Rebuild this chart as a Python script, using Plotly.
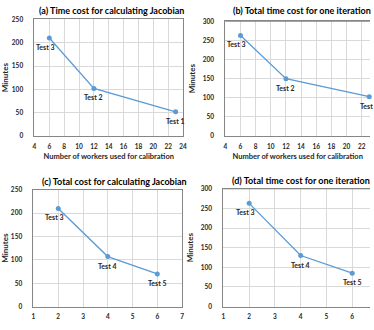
import plotly.graph_objects as go

W, H = 374, 330

# ---- data ----
workers_ab = [6, 12, 23]
jacobian_time_a = [210, 102, 52]
iteration_time_b = [263, 150, 103]
labels_ab = ["Test 3", "Test 2", "Test 1"]

x_cd = [2, 4, 6]
jacobian_total_c = [210, 107, 70]
iteration_total_d = [263, 130, 85]
labels_cd = ["Test 3", "Test 4", "Test 5"]

titles = ["(a) Time cost for calculating Jacobian",
          "(b) Total time cost for one iteration",
          "(c) Total cost for calculating Jacobian",
          "(d) Total time cost for one iteration"]
x_title = "Number of workers used for calibration"
y_title = "Minutes"

FONT = "Lato, Liberation Sans, sans-serif"
BLUE = "#5b9bd5"
GRID = "#d9d9d9"
BORDER = "#868686"
TXT = "#262626"

def px2x(p):
    return p / W

def px2y(p):
    return 1 - p / H

panels = [
    # (xs, ys, labels, xdomain px, ydomain px (top,bottom), xrange, dtick, yrange, full box, title center px, x title)
    (workers_ab, jacobian_time_a, labels_ab, (33, 184), (16, 138), [4, 24], 2, [0, 250], True, (111, 7), True),
    (workers_ab, iteration_time_b, labels_ab, (227, 374), (18, 138), [4, 23.1], 2, [0, 300], False, (305, 7), True),
    (x_cd, jacobian_total_c, labels_cd, (32, 183), (194, 316), [1, 7], 1, [0, 250], True, (114, 185), False),
    (x_cd, iteration_total_d, labels_cd, (225, 374), (193, 316), [1, 6.69], 1, [0, 300], False, (304, 184), False),
]

fig = go.Figure()
annotations = []
layout = {}
for i, (xs, ys, labs, xd, yd, xr, dt, yr, box, tpos, has_xt) in enumerate(panels):
    n = "" if i == 0 else str(i + 1)
    xa, ya = "x" + n, "y" + n
    fig.add_trace(go.Scatter(
        x=xs, y=ys, xaxis=xa, yaxis=ya, mode="lines+markers",
        line=dict(color=BLUE, width=1.3),
        marker=dict(color=BLUE, size=5),
        cliponaxis=False, showlegend=False, hoverinfo="skip"))
    layout["xaxis" + n] = dict(
        domain=[px2x(xd[0]), px2x(xd[1])], anchor=ya, range=xr, dtick=dt, tick0=0,
        showgrid=True, gridcolor=GRID, gridwidth=1, zeroline=False,
        showline=True, linecolor=BORDER, linewidth=1, mirror=True,
        ticks="", ticklabelstandoff=4,
        tickfont=dict(family=FONT, size=6.5, color=TXT, weight="bold"),
        title=dict(text=x_title if has_xt else "", standoff=4,
                   font=dict(family=FONT, size=7.5, color=TXT, weight="bold")),
    )
    layout["yaxis" + n] = dict(
        domain=[px2y(yd[1]), px2y(yd[0])], anchor=xa, range=yr, dtick=50,
        showgrid=True, gridcolor=GRID, gridwidth=1, zeroline=False,
        showline=True, linecolor=BORDER, linewidth=1, mirror=box,
        ticks="", ticklabelstandoff=9,
        tickfont=dict(family=FONT, size=6.5, color=TXT, weight="bold"),
        title=dict(text=y_title, standoff=5,
                   font=dict(family=FONT, size=8, color=TXT, weight="bold")),
    )
    if not box:
        # top border only (right side is cut off in the reference)
        fig.add_shape(type="line", xref=xa + " domain", yref=ya + " domain",
                      x0=0, x1=1, y0=1, y1=1, line=dict(color=BORDER, width=1))
    for k, (x, y, t) in enumerate(zip(xs, ys, labs)):
        annotations.append(dict(
            x=x, y=y, xref=xa, yref=ya, text=t, showarrow=False,
            xshift=-4 if k == 0 else 0, yshift=-9,
            font=dict(family=FONT, size=7, color=TXT, weight="bold")))
    annotations.append(dict(
        x=px2x(tpos[0]), y=px2y(tpos[1]), xref="paper", yref="paper",
        text=titles[i], showarrow=False, yanchor="middle", xanchor="center",
        font=dict(family=FONT, size=9, color="#000000", weight="bold")))

fig.update_layout(
    width=W, height=H, margin=dict(l=0, r=0, t=0, b=0),
    paper_bgcolor="white", plot_bgcolor="white",
    annotations=annotations, **layout)

fig.write_html("out.html")
